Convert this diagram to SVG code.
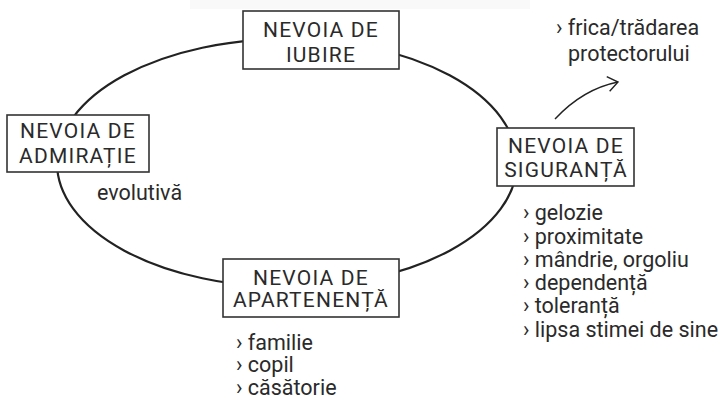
<svg xmlns="http://www.w3.org/2000/svg" width="721" height="400" viewBox="0 0 721 400">
<style>
  .box rect { fill: #ffffff; stroke: #333333; stroke-width: 1.6; }
  .box text { font-family: Roboto, "Liberation Sans", sans-serif; font-size: 21px; letter-spacing: 1.2px; fill: #2a2a2a; text-anchor: middle; }
  .lbl { font-family: Roboto, "Liberation Sans", sans-serif; font-size: 21.5px; fill: #2a2a2a; }
  .ring { fill: none; stroke: #222222; stroke-width: 2.2; }
  .arrow { fill: none; stroke: #222222; stroke-width: 1.4; }
</style>
<defs>
  <marker id="open" markerUnits="userSpaceOnUse" markerWidth="16" markerHeight="20" refX="12" refY="8" orient="auto" viewBox="0 0 16 16">
    <path d="M2,0.5 L12,8 L2,15.5" fill="none" stroke="#222222" stroke-width="1.4"/>
  </marker>
</defs>
<rect x="190" y="0" width="340" height="9" fill="#f9f9f9"/>
<g id="connectors">
  <ellipse class="ring" cx="287" cy="163" rx="230" ry="124"/>
  <path class="arrow" d="M555,119 Q583,89 618,82" marker-end="url(#open)"/>
</g>
<g id="iubire" class="box">
  <rect x="243" y="11" width="156" height="58"/>
  <text x="321" y="37">NEVOIA DE</text>
  <text x="321" y="62">IUBIRE</text>
</g>
<g id="siguranta" class="box">
  <rect x="497" y="128" width="137" height="58"/>
  <text x="566" y="153">NEVOIA DE</text>
  <text x="566" y="177">SIGURANȚĂ</text>
</g>
<g id="admiratie" class="box">
  <rect x="7" y="115" width="142" height="57"/>
  <text x="78" y="138">NEVOIA DE</text>
  <text x="78" y="163">ADMIRAȚIE</text>
</g>
<g id="apartenenta" class="box">
  <rect x="223" y="259" width="176" height="58"/>
  <text x="311" y="285">NEVOIA DE</text>
  <text x="311" y="307">APARTENENȚĂ</text>
</g>
<g id="labels">
  <text class="lbl" x="97" y="200">evolutivă</text>
  <text class="lbl" x="556" y="35">› frica/trădarea</text>
  <text class="lbl" x="568" y="61">protectorului</text>
  <text class="lbl" x="523" y="220">› gelozie</text>
  <text class="lbl" x="523" y="244">› proximitate</text>
  <text class="lbl" x="523" y="267">› mândrie, orgoliu</text>
  <text class="lbl" x="523" y="290">› dependență</text>
  <text class="lbl" x="523" y="313">› toleranță</text>
  <text class="lbl" x="523" y="337">› lipsa stimei de sine</text>
  <text class="lbl" x="236" y="350">› familie</text>
  <text class="lbl" x="236" y="372">› copil</text>
  <text class="lbl" x="236" y="395">› căsătorie</text>
</g>
</svg>
